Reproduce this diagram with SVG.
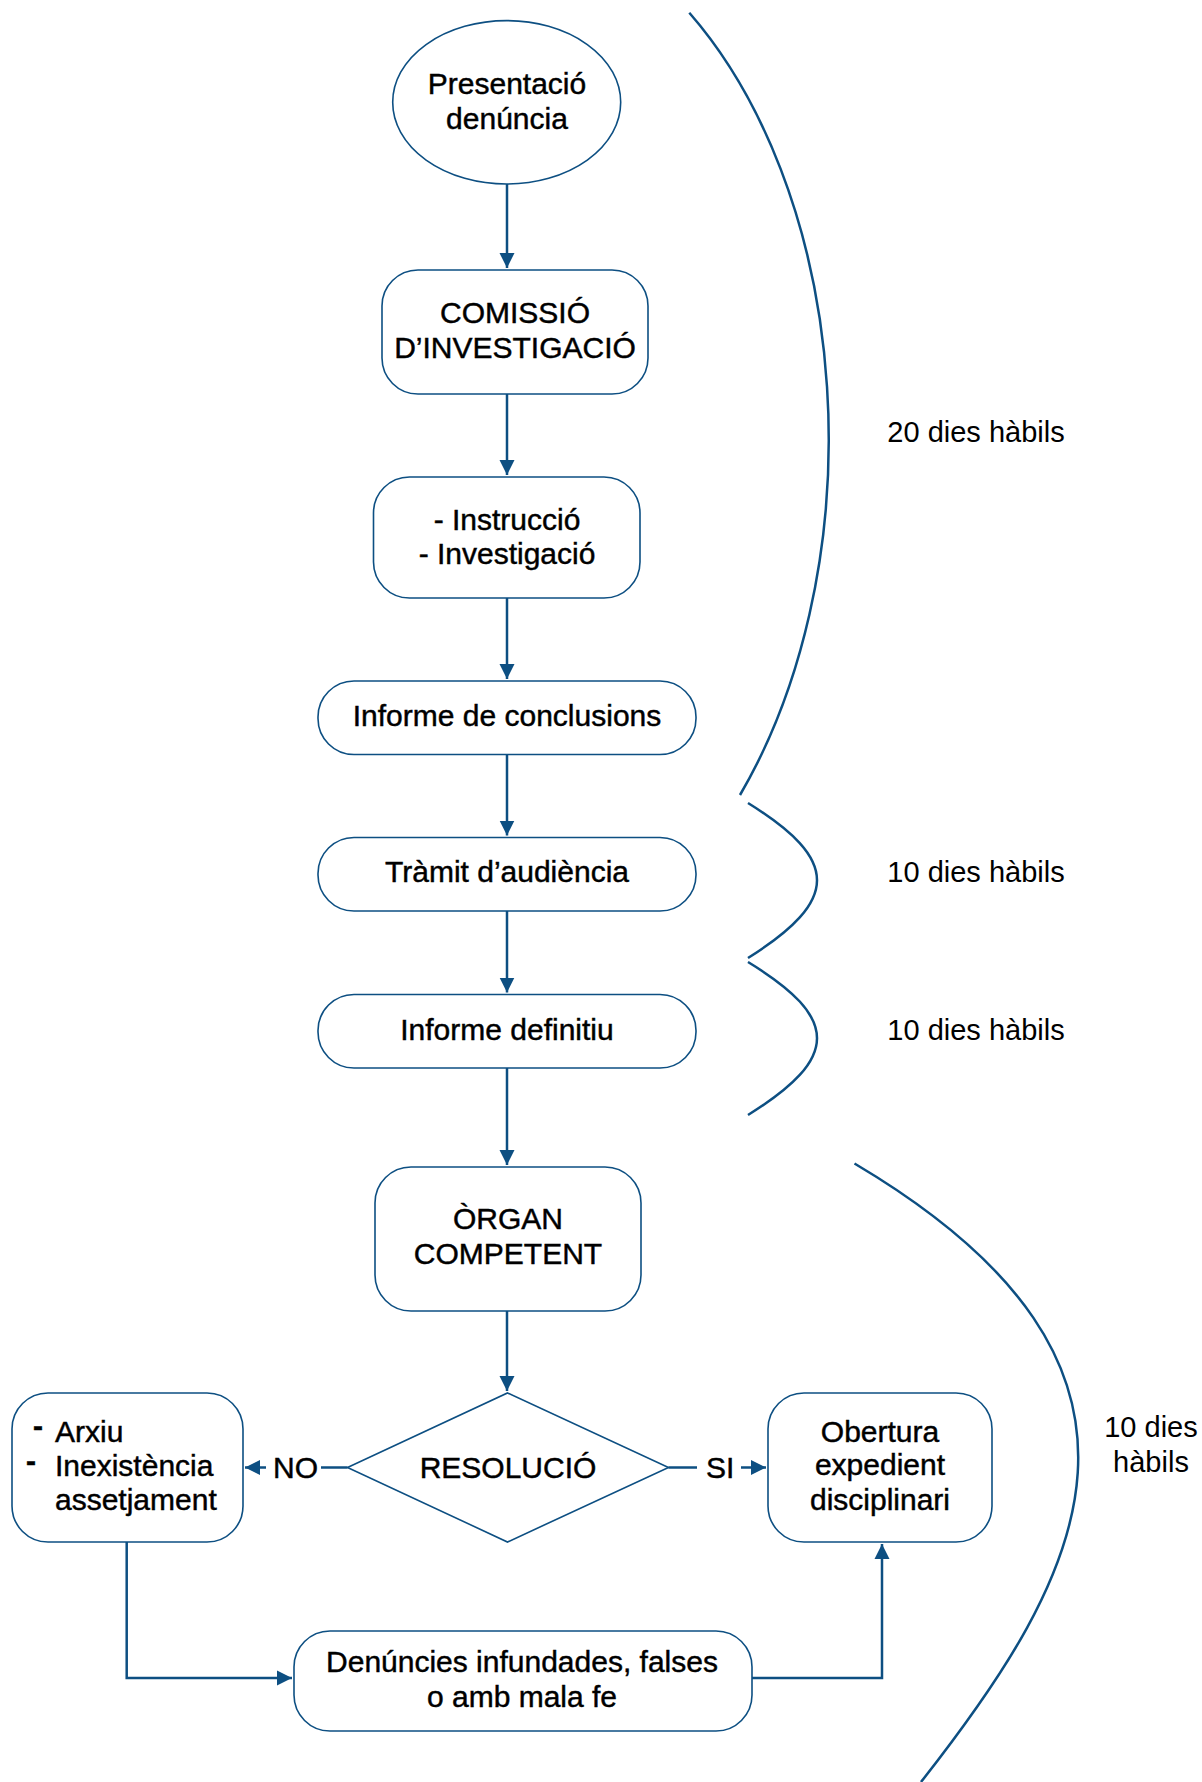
<svg xmlns="http://www.w3.org/2000/svg" width="1202" height="1782" viewBox="0 0 1202 1782">
<style>
.nd{fill:#fff;stroke:#0d4f82;stroke-width:1.6}
.t{font-family:"Liberation Sans",Arial,sans-serif;font-size:30px;fill:#000;text-anchor:middle;stroke:#000;stroke-width:0.45}
.tl{font-family:"Liberation Sans",Arial,sans-serif;font-size:30px;fill:#000;stroke:#000;stroke-width:0.45}
.lb{font-family:"Liberation Sans",Arial,sans-serif;font-size:29px;fill:#000;text-anchor:middle}
.c{fill:none;stroke:#0d4f82;stroke-width:2.5}
.br{fill:none;stroke:#0d4f82;stroke-width:2.5}
</style>
<defs>
<marker id="ah" markerUnits="userSpaceOnUse" markerWidth="16" markerHeight="16" viewBox="0 0 16 16" refX="15" refY="8" orient="auto">
<path d="M0,0.5 L15,8 L0,15.5 Z" fill="#0d4f82"/>
</marker>
</defs>
<g id="brackets">
<path class="br" d="M 689.3 12.7 A 347.7 532.9 0 0 1 740 795"/>
<path class="br" d="M 748 803 C 840 860, 840 900, 748 958"/>
<path class="br" d="M 748 962 C 840 1018, 840 1058, 748 1115"/>
<path class="br" d="M 854.5 1163.5 C 1200.5 1368.5, 1081.6 1577.4, 921 1782"/>
</g>
<g id="connectors">
<path class="c" d="M507 184 V268" marker-end="url(#ah)"/>
<path class="c" d="M507 394 V475" marker-end="url(#ah)"/>
<path class="c" d="M507 598 V679" marker-end="url(#ah)"/>
<path class="c" d="M507 754.5 V835.5" marker-end="url(#ah)"/>
<path class="c" d="M507 911 V992.5" marker-end="url(#ah)"/>
<path class="c" d="M507 1068 V1165" marker-end="url(#ah)"/>
<path class="c" d="M507 1311 V1391" marker-end="url(#ah)"/>
<path class="c" d="M347.5 1467.5 H321"/>
<path class="c" d="M266 1467.5 H245" marker-end="url(#ah)"/>
<text class="tl" x="273" y="1478">NO</text>
<path class="c" d="M668.5 1467.5 H697"/>
<path class="c" d="M741 1467.5 H766" marker-end="url(#ah)"/>
<text class="tl" x="706" y="1478">SI</text>
<path class="c" d="M126.7 1542 V1678 H292" marker-end="url(#ah)"/>
<path class="c" d="M752 1678 H882 V1544" marker-end="url(#ah)"/>
</g>
<g id="n1">
<ellipse class="nd" cx="506.7" cy="102.3" rx="114" ry="81.7"/>
<text class="t" x="507" y="94.3">Presentació</text>
<text class="t" x="507" y="129.3">denúncia</text>
</g>
<g id="n2">
<rect class="nd" x="382" y="270" width="266" height="124" rx="36"/>
<text class="t" x="515" y="323">COMISSIÓ</text>
<text class="t" x="515" y="358">D’INVESTIGACIÓ</text>
</g>
<g id="n3">
<rect class="nd" x="373.5" y="477" width="266.5" height="121" rx="36"/>
<text class="t" x="507" y="530">- Instrucció</text>
<text class="t" x="507" y="564">- Investigació</text>
</g>
<g id="n4">
<rect class="nd" x="318" y="681" width="378" height="73.5" rx="36"/>
<text class="t" x="507" y="726">Informe de conclusions</text>
</g>
<g id="n5">
<rect class="nd" x="318" y="837.5" width="378" height="73.5" rx="36"/>
<text class="t" x="507" y="882">Tràmit d’audiència</text>
</g>
<g id="n6">
<rect class="nd" x="318" y="994.5" width="378" height="73.5" rx="36"/>
<text class="t" x="507" y="1040">Informe definitiu</text>
</g>
<g id="n7">
<rect class="nd" x="375" y="1167" width="266" height="144" rx="36"/>
<text class="t" x="508" y="1229">ÒRGAN</text>
<text class="t" x="508" y="1264">COMPETENT</text>
</g>
<g id="n8">
<polygon class="nd" points="507.5,1393 668.5,1467.5 507.5,1542 347.5,1467.5"/>
<text class="t" x="508" y="1478">RESOLUCIÓ</text>
</g>
<g id="n9">
<rect class="nd" x="12" y="1393" width="231" height="149" rx="36"/>
<text class="tl" x="33" y="1436" font-weight="bold">-</text>
<text class="tl" x="26" y="1471" font-weight="bold">-</text>
<text class="tl" x="55" y="1442">Arxiu</text>
<text class="tl" x="55" y="1476">Inexistència</text>
<text class="tl" x="55" y="1510">assetjament</text>
</g>
<g id="n10">
<rect class="nd" x="768" y="1393" width="224" height="149" rx="36"/>
<text class="t" x="880" y="1442">Obertura</text>
<text class="t" x="880" y="1475">expedient</text>
<text class="t" x="880" y="1510">disciplinari</text>
</g>
<g id="n11">
<rect class="nd" x="294" y="1631" width="458" height="100" rx="36"/>
<text class="t" x="522" y="1672">Denúncies infundades, falses</text>
<text class="t" x="522" y="1707">o amb mala fe</text>
</g>
<g id="labels">
<text class="lb" x="976" y="442">20 dies hàbils</text>
<text class="lb" x="976" y="882">10 dies hàbils</text>
<text class="lb" x="976" y="1040">10 dies hàbils</text>
<text class="lb" x="1151" y="1437">10 dies</text>
<text class="lb" x="1151" y="1472">hàbils</text>
</g>
</svg>
